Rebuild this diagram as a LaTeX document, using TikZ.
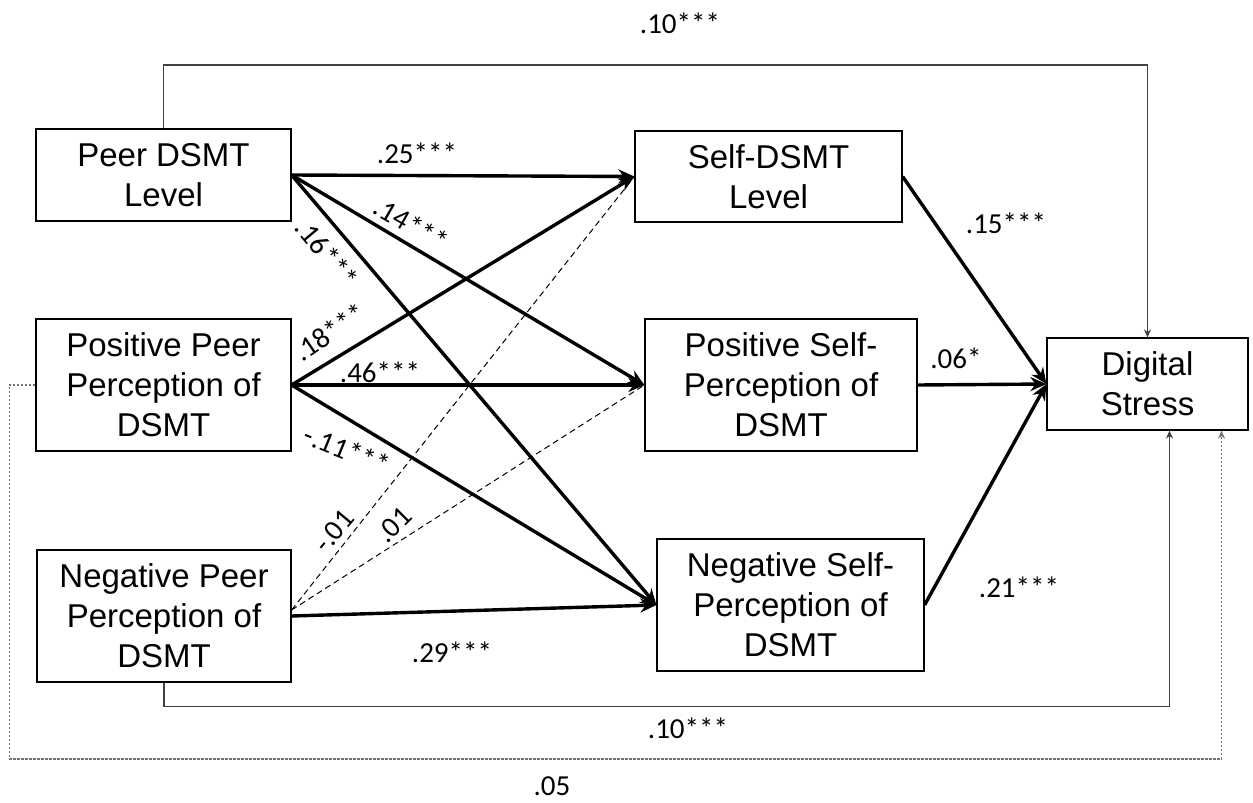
\documentclass[tikz,border=0pt]{standalone}
\usepackage{fontspec}
\setmainfont{Liberation Sans}
\newfontfamily\coeffont{Carlito}
\usetikzlibrary{arrows.meta}

\begin{document}
\begin{tikzpicture}[x=0.5pt,y=-0.5pt]
\tikzset{
  varbox/.style={rectangle,draw,line width=0.6pt,align=center,inner sep=1pt,font=\fontsize{16.5}{20}\selectfont},
  coef/.style={font=\coeffont\fontsize{14.5}{16}\selectfont,inner sep=0pt},
  strong/.style={-{Stealth[length=8pt,width=7pt]},line width=1.7pt},
  weak/.style={line width=0.5pt,dash pattern=on 3pt off 2pt},
  direct/.style={-{Stealth[length=4pt,width=3.5pt]},line width=0.6pt,draw=black!75},
  directns/.style={-{Stealth[length=4pt,width=3.5pt]},line width=0.6pt,draw=black!55,dash pattern=on 1.2pt off 0.8pt}
}
\useasboundingbox (0,0) rectangle (1253,803);
% variables
\node[varbox,minimum width=127.5pt,minimum height=46pt] (n_peer) at (163.5,175) {Peer DSMT\\Level};
\node[varbox,minimum width=127.5pt,minimum height=66pt] (n_pospeer) at (163.5,385) {Positive Peer\\Perception of\\DSMT};
\node[varbox,minimum width=127pt,minimum height=66pt] (n_negpeer) at (164,616) {Negative Peer\\Perception of\\DSMT};
\node[varbox,minimum width=133.5pt,minimum height=45.5pt] (n_self) at (768.5,176.5) {Self-DSMT\\Level};
\node[varbox,minimum width=136pt,minimum height=66pt] (n_posself) at (781,385) {Positive Self-\\Perception of\\DSMT};
\node[varbox,minimum width=133.5pt,minimum height=66pt] (n_negself) at (790.5,605) {Negative Self-\\Perception of\\DSMT};
\node[varbox,minimum width=100.5pt,minimum height=46pt] (n_stress) at (1147.5,384) {Digital\\Stress};
\coordinate (c_top) at (0,65);
\coordinate (c_in1) at ([xshift=11pt]n_stress.south);
\coordinate (c_in2) at ([xshift=37pt]n_stress.south);
% peer -> self
\draw[strong] (n_peer.east) -- (n_self.west);
\draw[strong] (n_peer.east) -- (n_posself.west);
\draw[strong] (n_peer.east) -- (n_negself.west);
\draw[strong] (n_pospeer.east) -- (n_self.west);
\draw[strong] (n_pospeer.east) -- (n_posself.west);
\draw[strong] (n_pospeer.east) -- (n_negself.west);
\draw[weak] ([yshift=3pt]n_negpeer.east) -- (n_self.west);
\draw[weak] ([yshift=3pt]n_negpeer.east) -- (n_posself.west);
\draw[strong] (n_negpeer.east) -- (n_negself.west);
% self -> stress
\draw[strong] (n_self.east) -- (n_stress.west);
\draw[strong] (n_posself.east) -- (n_stress.west);
\draw[strong] (n_negself.east) -- (n_stress.west);
% direct paths
\draw[direct] (n_peer.north) |- (c_top -| n_stress.north) -- (n_stress.north);
\draw[direct] (n_negpeer.south) -- ++(0,24) -| (c_in1);
\draw[directns] (n_pospeer.west) -- ++(-26,0) -- ++(0,374) -| (c_in2);
% coefficients
\node[coef] (l_peer_self) at (417,153) {.25***};
\node[coef,rotate=-30] (l_peer_posself) at (411,224) {.14***};
\node[coef,rotate=-50] (l_peer_negself) at (327,253) {.16***};
\node[coef,rotate=34] (l_pospeer_self) at (330,332) {.18***};
\node[coef] (l_pospeer_posself) at (380,372) {.46***};
\node[coef,rotate=-22] (l_pospeer_negself) at (347,450) {-.11***};
\node[coef,rotate=50] (l_negpeer_self) at (334,531) {-.01};
\node[coef,rotate=45] (l_negpeer_posself) at (394,525) {.01};
\node[coef] (l_negpeer_negself) at (452,652) {.29***};
\node[coef] (l_self_stress) at (1006,223) {.15***};
\node[coef] (l_posself_stress) at (956,358) {.06*};
\node[coef] (l_negself_stress) at (1019,587) {.21***};
\node[coef] (l_peer_stress) at (680,23) {.10***};
\node[coef] (l_negpeer_stress) at (688,728) {.10***};
\node[coef] (l_pospeer_stress) at (552,786) {.05};
\end{tikzpicture}
\end{document}
